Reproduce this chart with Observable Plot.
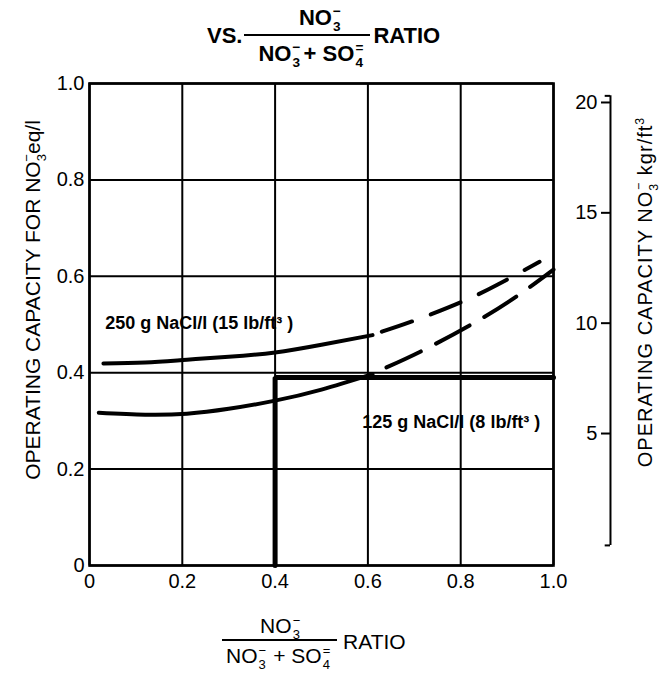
<!DOCTYPE html>
<html><head><meta charset="utf-8">
<script src="https://cdn.jsdelivr.net/npm/d3@7"></script>
<script src="https://cdn.jsdelivr.net/npm/@observablehq/plot@0.6"></script>
<style>
body{margin:0;background:#fff;font-family:"Liberation Sans",Arial,sans-serif;color:#000;}
#wrap{position:relative;width:662px;height:679px;overflow:hidden;background:#fff;}
.abs{position:absolute;white-space:nowrap;}
.row{display:flex;align-items:center;}
.frac{display:inline-flex;flex-direction:column;align-items:center;}
.frac .num{line-height:1.05;}
.frac .den{line-height:1.15;border-top:2px solid #000;}
.ion{position:relative;display:inline-block;width:0.55em;height:0.7em;}
.ion i{position:absolute;left:0.08em;font-style:normal;font-size:0.62em;line-height:1;}
.ion i.sp{top:-0.35em;}
.ion i.sb{bottom:-0.6em;}
</style></head>
<body><div id="wrap">
<div id="title" class="abs row" style="left:207px;top:6px;font-weight:bold;font-size:22px;">
  <span style="margin-right:2px;">VS.</span>
  <span class="frac"><span class="num" style="padding:0 0 5px 28px;">NO<span class="ion"><i class="sp">&minus;</i><i class="sb">3</i></span></span><span class="den" style="padding:5px 4px 0 14px;">NO<span class="ion"><i class="sp">&minus;</i><i class="sb">3</i></span>+ SO<span class="ion"><i class="sp">=</i><i class="sb">4</i></span></span></span>
  <span style="margin-left:3px;">RATIO</span>
</div>
<div id="xlab" class="abs row" style="left:222px;top:615px;font-size:21px;">
  <span class="frac"><span class="num" style="padding:0 0 2px 4px;">NO<span class="ion"><i class="sp">&minus;</i><i class="sb">3</i></span></span><span class="den" style="padding:3px 4px 0 4px;">NO<span class="ion"><i class="sp">&minus;</i><i class="sb">3</i></span>&thinsp;+ SO<span class="ion"><i class="sp">=</i><i class="sb">4</i></span></span></span>
  <span>&nbsp;RATIO</span>
</div>
</div>
<script>
// ---- data ----
const xTicks = [0, 0.2, 0.4, 0.6, 0.8, 1.0];
const xTickLabels = ["0", "0.2", "0.4", "0.6", "0.8", "1.0"];
const yTicks = [0, 0.2, 0.4, 0.6, 0.8, 1.0];
const yTickLabels = ["0", "0.2", "0.4", "0.6", "0.8", "1.0"];
const rightTicks = [5, 10, 15, 20];
const rightTickLabels = ["5", "10", "15", "20"];
const rightAxisRange = [-0.07, 20.3];     // kgr/ft3 span of the right axis line
const kgrPerEq = 21.84, kgrOffset = 0.98; // right-axis scale relation

// 250 g NaCl/l curve (solid, measured) and its dashed extrapolation
const hiSolidX = [0.03, 0.12, 0.21, 0.30, 0.40, 0.50, 0.61];
const hiSolidY = [0.419, 0.421, 0.427, 0.433, 0.442, 0.458, 0.478];
const hiDashX = [0.63, 0.70, 0.80, 0.88, 0.97];
const hiDashY = [0.485, 0.508, 0.546, 0.583, 0.630];
// 125 g NaCl/l curve
const loSolidX = [0.02, 0.12, 0.21, 0.30, 0.40, 0.50, 0.61];
const loSolidY = [0.317, 0.313, 0.315, 0.325, 0.342, 0.365, 0.397];
const loDashX = [0.64, 0.72, 0.83, 0.92, 1.0];
const loDashY = [0.411, 0.447, 0.504, 0.558, 0.614];
// operating point guide (ratio 0.4 -> capacity 0.39)
const opX = [0.4, 0.4, 1.0];
const opY = [0, 0.39, 0.39];
// curve labels
const labelText = ["250 g NaCl/l (15 lb/ft³ )", "125 g NaCl/l (8 lb/ft³ )"];
const labelX = [0.034, 0.588];
const labelY = [0.502, 0.297];

const zip = (xs, ys) => xs.map((x, i) => ({x, y: ys[i]}));
const kToY = k => (k + kgrOffset) / kgrPerEq;
const rightX = 1.1228, rightTickX = 1.1034, rightLabelX = 1.0948;

const svg = Plot.plot({
  width: 662, height: 540,
  marginLeft: 89, marginRight: 109, marginTop: 13, marginBottom: 45,
  x: {domain: [0, 1]},
  y: {domain: [0, 1]},
  style: {fontFamily: "'Liberation Sans', Arial, sans-serif", color: "#000", background: "#fff"},
  marks: [
    Plot.gridX(xTicks, {stroke: "#000", strokeOpacity: 1, strokeWidth: 2}),
    Plot.gridY(yTicks, {stroke: "#000", strokeOpacity: 1, strokeWidth: 2}),
    Plot.frame({stroke: "#000", strokeWidth: 2.6}),
    Plot.axisX(xTicks, {tickSize: 0, tickPadding: 8, fontSize: 20, tickFormat: d => xTickLabels[xTicks.indexOf(d)], label: null}),
    Plot.axisY(yTicks, {tickSize: 0, tickPadding: 5, fontSize: 20, tickFormat: d => yTickLabels[yTicks.indexOf(d)], label: null}),
    // right axis (kgr/ft3)
    Plot.ruleX([rightX], {y1: kToY(rightAxisRange[0]), y2: kToY(rightAxisRange[1]), stroke: "#000", strokeWidth: 2, clip: false}),
    Plot.ruleY(rightAxisRange.map(kToY), {x1: rightTickX + 0.008, x2: rightX, stroke: "#000", strokeWidth: 2, clip: false}),
    Plot.ruleY(rightTicks.map(kToY), {x1: rightTickX, x2: rightX, stroke: "#000", strokeWidth: 2, clip: false}),
    Plot.text(rightTicks, {x: rightLabelX, y: kToY, text: (d, i) => rightTickLabels[i], textAnchor: "end", fontSize: 20, clip: false}),
    // operating guide
    Plot.line(zip(opX, opY), {x: "x", y: "y", stroke: "#000", strokeWidth: 5, strokeLinejoin: "miter"}),
    // curves
    Plot.line(zip(hiSolidX, hiSolidY), {x: "x", y: "y", curve: "natural", stroke: "#000", strokeWidth: 4}),
    Plot.line(zip(hiDashX, hiDashY), {x: "x", y: "y", curve: "natural", stroke: "#000", strokeWidth: 4, strokeDasharray: "32,20"}),
    Plot.line(zip(loSolidX, loSolidY), {x: "x", y: "y", curve: "natural", stroke: "#000", strokeWidth: 4}),
    Plot.line(zip(loDashX, loDashY), {x: "x", y: "y", curve: "natural", stroke: "#000", strokeWidth: 4, strokeDasharray: "38,17"}),
    Plot.text(labelText, {x: (d, i) => labelX[i], y: (d, i) => labelY[i], text: d => d, textAnchor: "start", fontSize: 18, fontWeight: "bold", fill: "#000"})
  ]
});
svg.style.position = "absolute";
svg.style.left = "0px";
svg.style.top = "70px";
document.getElementById("wrap").appendChild(svg);

// rotated axis titles with stacked ion notation
const s = d3.select(svg);
function ionTitle(tx, ty, pre, post, sup, fs, ls) {
  const t = s.append("text")
    .attr("transform", `translate(${tx},${ty}) rotate(-90)`)
    .attr("text-anchor", "middle")
    .attr("font-size", fs)
    .attr("letter-spacing", ls)
    .attr("fill", "#000");
  t.append("tspan").text(pre + "NO");
  t.append("tspan").attr("font-size", fs * 0.62).attr("dy", fs * 0.28).text("3");
  t.append("tspan").attr("font-size", fs * 0.62).attr("dx", -fs * 0.36).attr("dy", -fs * 0.72).text("−");
  t.append("tspan").attr("dy", fs * 0.44).text(post);
  if (sup) t.append("tspan").attr("font-size", fs * 0.62).attr("dy", -fs * 0.4).text(sup);
}
ionTitle(40, 230, "OPERATING CAPACITY FOR ", "eq/l", null, 21, 0);
ionTitle(652, 222, "OPERATING CAPACITY ", " kgr/ft", "3", 20, 1);
</script>
</body></html>
